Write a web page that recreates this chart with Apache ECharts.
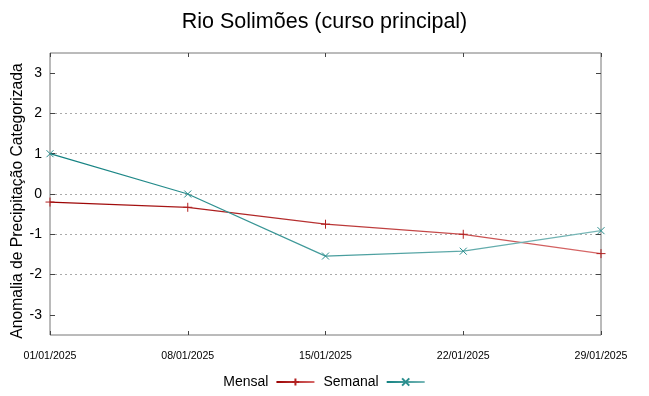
<!DOCTYPE html>
<html><head><meta charset="utf-8">
<script src="https://cdn.jsdelivr.net/npm/echarts@6/dist/echarts.min.js"></script>
<style>html,body{margin:0;padding:0;background:#fff}#c{width:649px;height:396px}</style>
</head><body><div id="c"></div>
<script>
const categories = ['01/01/2025','08/01/2025','15/01/2025','22/01/2025','29/01/2025'];
const mensal = [-0.2, -0.33, -0.75, -1.0, -1.48];
const semanal = [1.0, 0.0, -1.54, -1.42, -0.91];
const yTicks = [-3, -2, -1, 0, 1, 2, 3];

const font = 'Liberation Sans, Arial, sans-serif';
const plus = 'path://M0,-1L0,1M-1,0L1,0';
const cross = 'path://M-1,-1L1,1M-1,1L1,-1';
function grad(a,b){return new echarts.graphic.LinearGradient(0,0,1,0,[{offset:0,color:a},{offset:1,color:b}]);}
const tickStyle = {color:'#444',width:1};

const chart = echarts.init(document.getElementById('c'), null, {renderer:'canvas'});
chart.setOption({
  animation:false,
  backgroundColor:'#fff',
  title:{text:'Rio Solimões (curso principal)',left:'center',top:6,
    textStyle:{fontFamily:font,fontSize:21.5,fontWeight:'normal',color:'#000'}},
  grid:{left:50,right:48,top:53,bottom:61,outerBoundsMode:'none',containLabel:false,
    show:true,borderColor:'#777',borderWidth:1,backgroundColor:'transparent'},
  legend:{bottom:2,left:'center',align:'right',itemWidth:38,itemHeight:9,itemGap:8,
    textStyle:{fontFamily:font,fontSize:14,color:'#000',padding:[0,3,0,0]},
    data:[{name:'Mensal'},{name:'Semanal'}]},
  xAxis:[{type:'category',data:categories,boundaryGap:false,position:'bottom',
    axisLine:{show:false,onZero:false},
    axisTick:{show:true,inside:true,length:4,lineStyle:tickStyle},
    axisLabel:{fontFamily:font,fontSize:10.6,color:'#000',margin:16},
    splitLine:{show:false}},
   {type:'category',data:categories,boundaryGap:false,position:'top',
    axisLine:{show:false,onZero:false},
    axisTick:{show:true,inside:true,length:4,lineStyle:tickStyle},
    axisLabel:{show:false},splitLine:{show:false}}],
  yAxis:[{type:'value',min:-3.5,max:3.5,interval:0.5,
    name:'Anomalia de Precipitação Categorizada',nameLocation:'middle',nameGap:24,
    nameMoveOverlap:false,
    nameTextStyle:{fontFamily:font,fontSize:15.7,color:'#000',padding:[0,14,0,0]},
    axisLine:{show:false,onZero:false},
    axisTick:{show:true,inside:true,length:5,lineStyle:tickStyle,customValues:yTicks},
    axisLabel:{fontFamily:font,fontSize:14,color:'#000',margin:8,customValues:yTicks},
    splitLine:{show:true,showMinLine:false,showMaxLine:false,lineStyle:{color:'#aaa',type:[2,3],width:1},
      customValues:yTicks}},
   {type:'value',min:-3.5,max:3.5,position:'right',
    axisLine:{show:false,onZero:false},axisLabel:{show:false},splitLine:{show:false},
    axisTick:{show:true,inside:true,length:5,lineStyle:tickStyle,customValues:yTicks}}],
  series:[
    {name:'Mensal',type:'line',data:mensal,symbol:plus,symbolSize:9,
      lineStyle:{width:1.3,color:grad('#9a0000','#d86a6a')},
      itemStyle:{color:'#b22020',borderColor:'#b22020',borderWidth:1}},
    {name:'Semanal',type:'line',data:semanal,symbol:cross,symbolSize:7,
      lineStyle:{width:1.3,color:grad('#108080','#7ab8b8')},
      itemStyle:{color:'#2a8e8e',borderColor:'#2a8e8e',borderWidth:1}}
  ]
});
</script></body></html>
